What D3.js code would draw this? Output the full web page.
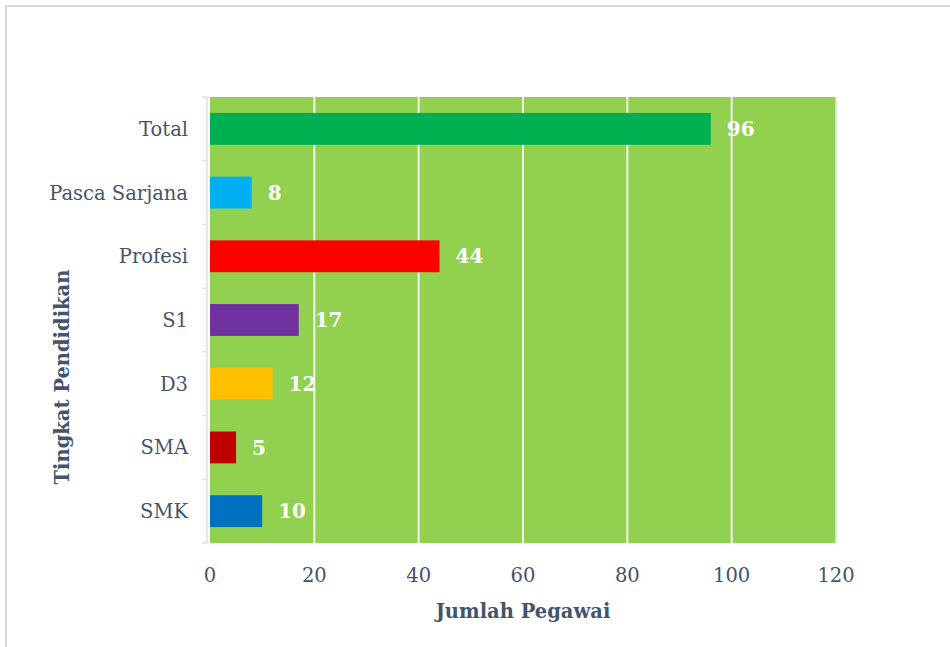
<!DOCTYPE html>
<html>
<head>
<meta charset="utf-8">
<script src="https://cdn.jsdelivr.net/npm/d3@7"></script>
<style>
  body { margin: 0; background: #fff; }
  svg { display: block; }
</style>
</head>
<body>
<div id="chart"></div>
<script>
// data
var categories = ["Total", "Pasca Sarjana", "Profesi", "S1", "D3", "SMA", "SMK"];
var values = [96, 8, 44, 17, 12, 5, 10];
var barColors = ["#00B050", "#00B0F0", "#FF0000", "#7030A0", "#FFC000", "#C00000", "#0070C0"];
var xTicks = [0, 20, 40, 60, 80, 100, 120];

var W = 950, H = 647;
var margin = {top: 97, right: 114, bottom: 104, left: 210};
var width = W - margin.left - margin.right,
    height = H - margin.top - margin.bottom;

var serif = "'DejaVu Serif', 'Liberation Serif', serif";
var textCol = "#44546A";

var svg = d3.select("#chart").append("svg")
    .attr("width", W)
    .attr("height", H);

// outer frame
svg.append("rect")
    .attr("x", 6).attr("y", 6)
    .attr("width", W).attr("height", H)
    .attr("fill", "none")
    .attr("stroke", "#D9D9D9")
    .attr("stroke-width", 2);

var g = svg.append("g")
    .attr("transform", "translate(" + margin.left + "," + margin.top + ")");

var x = d3.scaleLinear()
    .domain([0, 120])
    .range([0, width]);

var y = d3.scaleBand()
    .domain(categories)
    .range([0, height])
    .paddingInner(0.5)
    .paddingOuter(0.25);

// plot background
g.append("rect")
    .attr("width", width)
    .attr("height", height)
    .attr("fill", "#92D050");

// gridlines
g.selectAll(".grid")
    .data(xTicks.slice(1))
  .enter().append("line")
    .attr("x1", function(d) { return x(d); })
    .attr("x2", function(d) { return x(d); })
    .attr("y1", 0).attr("y2", height)
    .attr("stroke", function(d) { return d === 120 ? "#D9E1EA" : "#F2F2F2"; })
    .attr("stroke-width", 2);

// y axis bracket
var yTickPos = d3.range(categories.length + 1).map(function(i) { return i * height / categories.length; });
g.append("line")
    .attr("x1", -3).attr("x2", -3)
    .attr("y1", 0).attr("y2", height)
    .attr("stroke", "#D9E1EA").attr("stroke-width", 1.5);
g.selectAll(".ytick")
    .data(yTickPos)
  .enter().append("line")
    .attr("x1", -8).attr("x2", -3)
    .attr("y1", function(d) { return d; })
    .attr("y2", function(d) { return d; })
    .attr("stroke", "#D9E1EA").attr("stroke-width", 1.5);

// bars
g.selectAll(".bar")
    .data(categories)
  .enter().append("rect")
    .attr("class", "bar")
    .attr("x", 0)
    .attr("y", function(d) { return y(d); })
    .attr("height", y.bandwidth())
    .attr("width", function(d, i) { return x(values[i]); })
    .attr("fill", function(d, i) { return barColors[i]; });

// value labels
g.selectAll(".lbl")
    .data(categories)
  .enter().append("text")
    .attr("x", function(d, i) { return x(values[i]) + 16; })
    .attr("y", function(d) { return y(d) + y.bandwidth() / 2; })
    .attr("dy", "0.36em")
    .attr("fill", "#fff")
    .attr("font-family", serif)
    .attr("font-weight", "bold")
    .attr("font-size", 20)
    .text(function(d, i) { return values[i]; });

// category labels
g.selectAll(".cat")
    .data(categories)
  .enter().append("text")
    .attr("x", -22)
    .attr("y", function(d) { return y(d) + y.bandwidth() / 2; })
    .attr("dy", "0.36em")
    .attr("text-anchor", "end")
    .attr("fill", textCol)
    .attr("font-family", serif)
    .attr("font-size", 19.5)
    .text(function(d) { return d; });

// x tick labels
g.selectAll(".xt")
    .data(xTicks)
  .enter().append("text")
    .attr("x", function(d) { return x(d); })
    .attr("y", height + 32)
    .attr("dy", "0.36em")
    .attr("text-anchor", "middle")
    .attr("fill", textCol)
    .attr("font-family", serif)
    .attr("font-size", 19.5)
    .text(function(d) { return d; });

// axis titles
g.append("text")
    .attr("x", width / 2)
    .attr("y", height + 68)
    .attr("dy", "0.36em")
    .attr("text-anchor", "middle")
    .attr("fill", textCol)
    .attr("font-family", serif)
    .attr("font-weight", "bold")
    .attr("font-size", 19.5)
    .text("Jumlah Pegawai");

svg.append("text")
    .attr("transform", "translate(62," + 377 + ") rotate(-90)")
    .attr("dy", "0.36em")
    .attr("text-anchor", "middle")
    .attr("fill", textCol)
    .attr("font-family", serif)
    .attr("font-weight", "bold")
    .attr("font-size", 19.5)
    .text("Tingkat Pendidikan");
</script>
</body>
</html>
